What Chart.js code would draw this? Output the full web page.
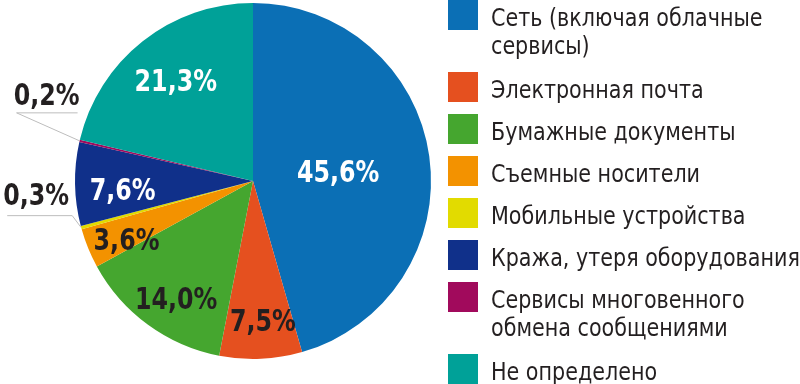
<!DOCTYPE html>
<html lang="ru">
<head>
    <meta charset="UTF-8">
    <title>Каналы утечки</title>
    <script src="https://cdn.jsdelivr.net/npm/chart.js"></script>
    <style>
        body {
            margin: 0;
            background: #fff;
            font-family: "Liberation Sans Narrow", "DejaVu Sans Condensed", sans-serif;
        }

        .wrap {
            position: relative;
            width: 800px;
            height: 384px;
            overflow: hidden;
        }

        #pie {
            position: absolute;
            left: 0;
            top: 0;
        }

        #legend {
            position: absolute;
            left: 448px;
            top: 0;
            width: 360px;
            color: #231f20;
        }

        .item {
            display: flex;
            align-items: flex-start;
            margin-bottom: 10px;
        }

        .item.multi {
            margin-bottom: 12px;
        }

        .box {
            width: 30px;
            height: 30px;
            flex: none;
            margin-right: 13px;
        }

        .txt {
            font-size: 25px;
            line-height: 28px;
            padding-top: 4px;
            white-space: nowrap;
            transform: scaleX(0.92);
            transform-origin: left top;
        }
    </style>
</head>
<body>
    <div class="wrap">
        <canvas id="pie" width="800" height="384"></canvas>
        <div id="legend"></div>
    </div>

    <script>
        // категории (строки легенды)
        const categories = [
            ['Сеть (включая облачные', 'сервисы)'],
            ['Электронная почта'],
            ['Бумажные документы'],
            ['Съемные носители'],
            ['Мобильные устройства'],
            ['Кража, утеря оборудования'],
            ['Сервисы многовенного', 'обмена сообщениями'],
            ['Не определено']
        ];
        // доли, %
        const shares = [45.6, 7.5, 14.0, 3.6, 0.3, 7.6, 0.2, 21.3];
        const colors = ['#0b6fb5', '#e5501f', '#45a62f', '#f39200', '#e2db00', '#10308a', '#a10a5c', '#00a198'];
        const textColors = ['#fff', '#231f20', '#231f20', '#231f20', '#231f20', '#fff', '#231f20', '#fff'];

        // где ставить подписи: [доля радиуса, сдвиг угла в градусах] или выноска
        const inside = [[0.48, 3], [0.80, -1.5], [0.80, -3.5], [0.79, -3.7], null, [0.735, -3.7], null, [0.70, 0]];
        const outside = {
            4: { dx: -45, dy: -31, ux0: -74, ux1: -9, uy: -12, from: 'right' },
            6: { dx: -33, dy: -44, ux0: -63, ux1: -2, uy: -28, from: 'left' }
        };

        const fmt = v => v.toFixed(1).replace('.', ',') + '%';

        function drawLabel(ctx, text, x, y) {
            ctx.save();
            ctx.translate(x, y);
            ctx.scale(0.88, 1.03);
            ctx.fillText(text, 0, 0);
            ctx.restore();
        }

        const labelsPlugin = {
            id: 'pieLabels',
            afterDatasetsDraw(chart) {
                const ctx = chart.ctx;
                const meta = chart.getDatasetMeta(0);
                ctx.save();
                ctx.font = 'bold 30px "Liberation Sans Narrow", "DejaVu Sans Condensed", sans-serif';
                ctx.textAlign = 'center';
                ctx.textBaseline = 'middle';
                meta.data.forEach((arc, i) => {
                    const p = arc.getProps(['x', 'y', 'startAngle', 'endAngle', 'outerRadius'], true);
                    const mid = (p.startAngle + p.endAngle) / 2;
                    const text = fmt(shares[i]);
                    if (inside[i]) {
                        const a = mid + inside[i][1] * Math.PI / 180;
                        const r = p.outerRadius * inside[i][0];
                        ctx.fillStyle = textColors[i];
                        drawLabel(ctx, text, p.x + Math.cos(a) * r, p.y + Math.sin(a) * r);
                    } else if (outside[i]) {
                        const o = outside[i];
                        const ex = p.x + Math.cos(mid) * p.outerRadius;
                        const ey = p.y + Math.sin(mid) * p.outerRadius;
                        ctx.strokeStyle = '#bdbdbd';
                        ctx.lineWidth = 1;
                        ctx.beginPath();
                        ctx.moveTo(ex + o.ux1, ey + o.uy);
                        ctx.lineTo(ex + o.ux0, ey + o.uy);
                        ctx.stroke();
                        ctx.beginPath();
                        ctx.moveTo(ex + (o.from === 'left' ? o.ux0 : o.ux1), ey + o.uy);
                        ctx.lineTo(ex, ey);
                        ctx.stroke();
                        ctx.fillStyle = textColors[i];
                        drawLabel(ctx, text, ex + o.dx, ey + o.dy);
                    }
                });
                ctx.restore();
            }
        };

        new Chart(document.getElementById('pie'), {
            type: 'pie',
            data: {
                labels: categories.map(c => c.join(' ')),
                datasets: [{
                    data: shares,
                    backgroundColor: colors,
                    borderWidth: 0
                }]
            },
            options: {
                responsive: false,
                animation: false,
                layout: { padding: { left: 75, right: 369, top: 3, bottom: 25 } },
                plugins: {
                    legend: { display: false },
                    tooltip: { enabled: false }
                }
            },
            plugins: [labelsPlugin]
        });

        // легенда справа
        const legend = document.getElementById('legend');
        categories.forEach((lines, i) => {
            const item = document.createElement('div');
            item.className = lines.length > 1 ? 'item multi' : 'item';
            const box = document.createElement('div');
            box.className = 'box';
            box.style.background = colors[i];
            const txt = document.createElement('div');
            txt.className = 'txt';
            txt.innerHTML = lines.join('<br>');
            item.appendChild(box);
            item.appendChild(txt);
            legend.appendChild(item);
        });
    </script>
</body>
</html>
